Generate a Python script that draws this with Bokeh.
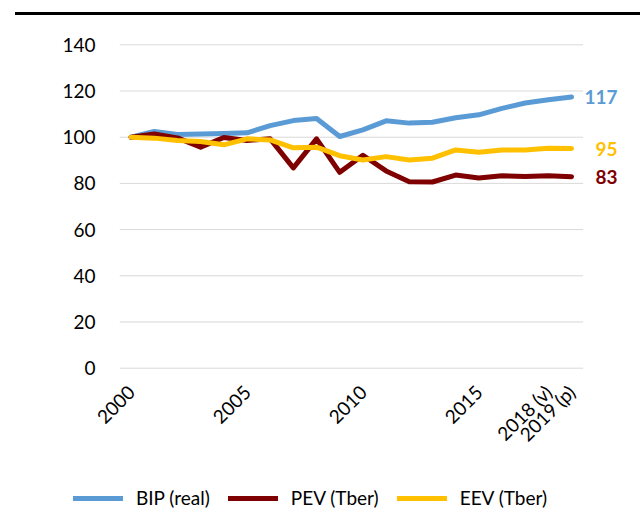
import math
from bokeh.plotting import figure
from bokeh.models import (Range1d, FixedTicker, Legend, LegendItem, LabelSet,
                          ColumnDataSource, Div)
from bokeh.layouts import column, row
from bokeh.core.properties import value
from bokeh.embed import file_html
from bokeh.resources import INLINE

years = list(range(2000, 2020))
bip = [100, 102.5, 101.2, 101.4, 101.6, 101.9, 105.0, 107.2, 108.1, 100.3,
       103.2, 107.1, 106.1, 106.5, 108.4, 109.7, 112.5, 114.8, 116.2, 117.4]
pev = [100, 101.4, 99.7, 95.7, 99.9, 98.6, 99.3, 86.7, 99.3, 84.8,
       92.2, 85.4, 80.7, 80.6, 83.6, 82.3, 83.3, 83.0, 83.3, 82.9]
eev = [100, 99.6, 98.6, 98.1, 96.7, 99.3, 98.8, 95.4, 95.7, 92.0,
       90.1, 91.6, 90.1, 90.9, 94.5, 93.5, 94.5, 94.5, 95.2, 95.1]
series_names = ["BIP (real)", "PEV (Tber)", "EEV (Tber)"]
end_labels = ["117", "95", "83"]
x_ticks = [2000, 2005, 2010, 2015, 2018, 2019]
x_tick_labels = {2018: "2018 (v)", 2019: "2019 (p)"}
y_ticks = [0, 20, 40, 60, 80, 100, 120, 140]

colors = ["#5B9BD5", "#7F0000", "#FFC000"]
FONT = "Lato"
FS = "19px"

top_line = Div(
    text='<div style="position:absolute;left:15px;top:12px;width:625px;height:3px;background:#000;"></div>',
    width=640, height=16, styles={"margin": "0", "padding": "0"})

x0, x1 = years[0] - 0.5, years[-1] + 0.5
p = figure(width=640, height=464, output_backend="svg", toolbar_location=None,
           x_range=Range1d(x0, x1 + 2), y_range=Range1d(-1, 141),
           min_border_left=119, min_border_right=11, min_border_top=26,
           min_border_bottom=110, sizing_mode="fixed")
p.outline_line_color = None
p.background_fill_color = "white"
p.border_fill_color = "white"

p.xgrid.grid_line_color = None
p.ygrid.grid_line_color = None
p.segment(x0=[x0] * len(y_ticks), x1=[x1] * len(y_ticks), y0=y_ticks, y1=y_ticks,
          line_color="#D9D9D9", line_width=1)

p.yaxis.ticker = FixedTicker(ticks=y_ticks)
p.yaxis.axis_line_color = None
p.yaxis.major_tick_line_color = None
p.yaxis.minor_tick_line_color = None
p.yaxis.major_tick_out = 0
p.yaxis.major_tick_in = 0
p.yaxis.major_label_text_font = FONT
p.yaxis.major_label_text_font_size = FS
p.yaxis.major_label_text_color = "#000000"
p.yaxis.major_label_standoff = 24

p.xaxis.ticker = FixedTicker(ticks=x_ticks)
p.xaxis.major_label_overrides = x_tick_labels
p.xaxis.axis_line_color = None
p.xaxis.major_tick_line_color = None
p.xaxis.minor_tick_line_color = None
p.xaxis.major_tick_out = 0
p.xaxis.major_tick_in = 0
p.xaxis.major_label_orientation = math.pi / 4
p.xaxis.major_label_text_font = FONT
p.xaxis.major_label_text_font_size = FS
p.xaxis.major_label_text_color = "#000000"
p.xaxis.major_label_standoff = 18

for vals, c in zip([bip, pev, eev], colors):
    p.line(years, vals, line_color=c, line_width=5,
           line_join="round", line_cap="round")

lab_src = ColumnDataSource(dict(
    x=[years[-1]] * 3,
    y=[bip[-1], eev[-1], pev[-1]],
    text=end_labels,
    color=[colors[0], colors[2], colors[1]],
))
labels = LabelSet(x="x", y="y", text="text", source=lab_src,
                  text_color="color", text_font=value(FONT),
                  text_font_style="bold",
                  text_font_size=FS, text_align="right",
                  text_baseline="middle", x_offset=46, y_offset=0)
p.add_layout(labels)

# legend strip below the chart (its lines lie outside its visible range)
lg = figure(width=640, height=34, output_backend="svg", toolbar_location=None,
            x_range=Range1d(0, 1), y_range=Range1d(0, 1),
            x_axis_location=None, y_axis_location=None,
            min_border_left=0, min_border_right=0, min_border_top=0,
            min_border_bottom=0, sizing_mode="fixed")
lg.outline_line_color = None
lg.xgrid.grid_line_color = None
lg.ygrid.grid_line_color = None
lg_renderers = []
for vals, c in zip([bip, pev, eev], colors):
    lg_renderers.append(lg.line(years, vals, line_color=c, line_width=5,
                                line_cap="round"))
legend = Legend(items=[LegendItem(label=n, renderers=[r])
                       for n, r in zip(series_names, lg_renderers)],
                orientation="horizontal", location=(73, 5),
                label_text_font=FONT, label_text_font_size=FS,
                label_text_color="#000000",
                glyph_width=50, glyph_height=20, label_standoff=13,
                spacing=18, border_line_color=None,
                background_fill_alpha=0, margin=0, padding=0)
lg.add_layout(legend, "center")

layout = column(top_line, p, row(lg), spacing=0)
open("out.html", "w").write(file_html(layout, INLINE))
